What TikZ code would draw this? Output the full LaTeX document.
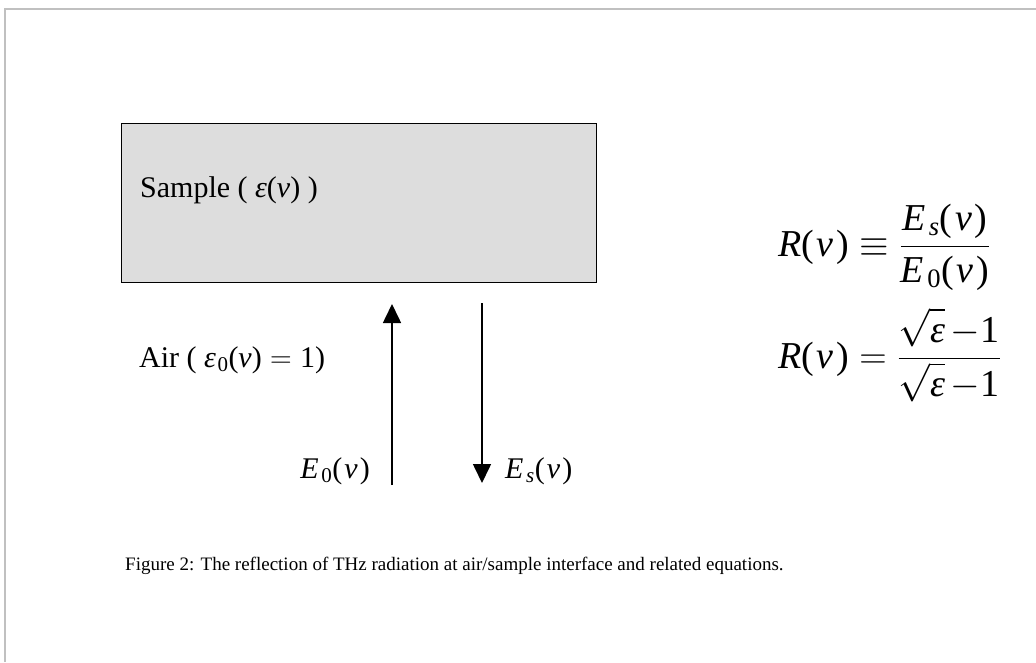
\RequirePackage{fix-cm}
\documentclass[tikz,border=0pt]{standalone}
\usepackage{amsmath}
\usepackage{fontspec}
\setmainfont{Liberation Serif}
\usetikzlibrary{arrows.meta}
\definecolor{boxgray}{HTML}{DDDDDD}
\definecolor{framegray}{HTML}{C0C0C0}
\newcommand\gnu{\textit{ν}}
\newcommand\geps{\textit{ε}}
\newcommand\ti[1]{\textit{#1}}
\newcommand\tu[1]{\textup{#1}}
\newcommand\pnu{\tu{(}\kern0.07em\gnu\kern0.07em\tu{)}}
\newcommand\Esub[1]{\ti{E}_{\kern0.09em #1}}
\newcommand\sqe{\sqrt{\geps\vphantom{E}}\kern0.14em{-}\kern0.02em\tu{1}}
\begin{document}
\begin{tikzpicture}[x=1pt,y=-1pt,
  lbl/.style={inner sep=0pt, font=\fontsize{30}{33}\selectfont},
  eqn/.style={inner sep=0pt, font=\fontsize{38}{42}\selectfont},
  ray/.style={line width=1.6pt, -{Triangle[width=18pt,length=19pt]}},
  frame/.style={draw=framegray, line width=2pt}]
\useasboundingbox (0,0) rectangle (1036,662);
\draw[frame] (5,662) -- (5,9) -- (1036,9);
% sample block
\node[draw=black, line width=1.4pt, fill=boxgray, minimum width=475pt, minimum height=159pt,
      inner sep=0pt, anchor=north west] (sample) at (121,123) {};
\node[lbl, anchor=base west] (samplelbl) at (140,197)
  {Sample ( $\geps\tu{(}\gnu\tu{)}$ )};
\node[lbl, anchor=base west] (airlbl) at (139,367)
  {Air ( $\geps_{\kern0.05em\tu{0}}\tu{(}\gnu\tu{)} = \tu{1}$)};
% rays
\coordinate (inbot) at (392,485);
\coordinate (intop) at (392,304);
\coordinate (outtop) at (482,303);
\coordinate (outbot) at (482,483);
\draw[ray] (inbot) -- (intop);
\draw[ray] (outtop) -- (outbot);
\node[lbl, anchor=base east] (e0lbl) at (370,478) {$\Esub{\tu{0}}\pnu$};
\node[lbl, anchor=base west] (eslbl) at (505,478) {$\Esub{\ti{s}}\pnu$};
% equations
\node[eqn, anchor=base west] (eq1) at (778,256)
  {$\displaystyle \ti{R}\pnu \equiv \frac{\rule[-6pt]{0pt}{6pt}\Esub{\ti{s}}\pnu}{\rule{0pt}{29pt}\Esub{\tu{0}}\pnu}$};
\node[eqn, anchor=base west] (eq2) at (778,368)
  {$\displaystyle \ti{R}\pnu\mkern5mu{=}\mkern5mu\frac{\rule[-5pt]{0pt}{5pt}\sqe}{\rule{0pt}{30pt}\sqe}$};
% caption
\node[inner sep=0pt, anchor=base west, font=\fontsize{19}{21}\selectfont] (caption) at (125,570)
  {Figure 2: The reflection of THz radiation at air/sample interface and related equations.};
\end{tikzpicture}
\end{document}
